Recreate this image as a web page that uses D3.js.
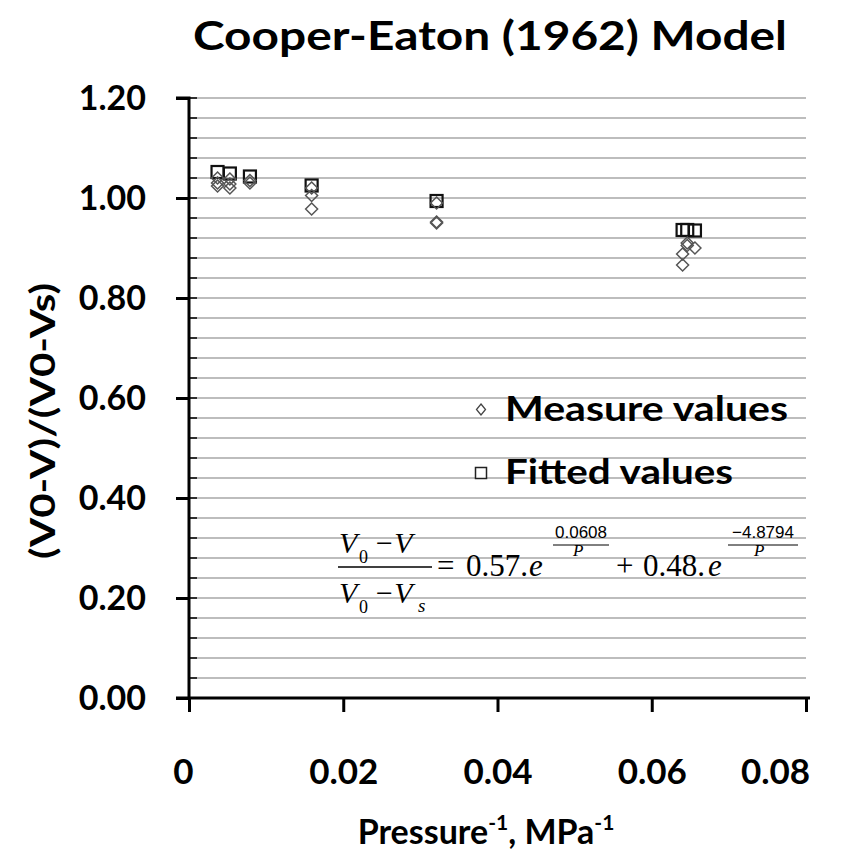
<!DOCTYPE html>
<html><head><meta charset="utf-8">
<script src="https://cdn.jsdelivr.net/npm/d3@7"></script>
<style>body{margin:0;background:#fff}svg{display:block}</style>
</head><body>
<script>
// ---- data ----
const measuredX = [0.0037,0.0037,0.0037,0.0053,0.0053,0.0053,0.0079,0.0079,0.0159,0.0159,0.0159,0.0321,0.0321,0.0321,0.0640,0.0640,0.0646,0.0646,0.0656];
const measuredY = [1.040,1.030,1.024,1.038,1.028,1.020,1.035,1.030,1.020,1.005,0.978,0.990,0.952,0.950,0.866,0.888,0.910,0.905,0.900];
const fittedX = [0.0037,0.0053,0.0079,0.0159,0.0321,0.0640,0.0646,0.0656];
const fittedY = [1.052,1.049,1.043,1.025,0.994,0.936,0.936,0.935];
const xTicks = [0,0.02,0.04,0.06,0.08];
const xTickLabels = ["0","0.02","0.04","0.06","0.08"];
const yTicks = [0,0.2,0.4,0.6,0.8,1.0,1.2];
const yTickLabels = ["0.00","0.20","0.40","0.60","0.80","1.00","1.20"];
const seriesNames = ["Measure values","Fitted values"];
const titleText = "Cooper-Eaton (1962) Model";

const W=849,H=853;
const m={l:189,r:806,t:98,b:698};
const svg=d3.select("body").append("svg").attr("width",W).attr("height",H);
const x=d3.scaleLinear().domain([0,0.08]).range([m.l,m.r]);
const y=d3.scaleLinear().domain([0,1.2]).range([m.b,m.t]);
const font="Lato, 'Open Sans', sans-serif";

// gridlines every 0.04
const grid=d3.range(1,31).map(i=>i*0.04);
svg.append("g").selectAll("line").data(grid).join("line")
  .attr("x1",m.l).attr("x2",m.r).attr("y1",d=>y(d)).attr("y2",d=>y(d))
  .attr("stroke","#bdbdbd").attr("stroke-width",1.8);

// y axis
const yAxis=d3.axisLeft(y).tickValues(yTicks).tickSize(13).tickFormat((d,i)=>yTickLabels[i]).tickPadding(30);
const gy=svg.append("g").attr("transform",`translate(${m.l},0)`).call(yAxis);
gy.select(".domain").attr("stroke","#000").attr("stroke-width",3).attr("d",`M-13,${m.t}H0V${m.b}`);
gy.selectAll(".tick line").attr("stroke","#000").attr("stroke-width",3);
gy.selectAll(".tick text").attr("font-family",font).attr("font-weight",700).attr("font-size",34).attr("fill","#000").attr("dy","0.35em");
// minor inward ticks on y
svg.append("g").selectAll("line").data(grid).join("line")
  .attr("x1",m.l).attr("x2",m.l+8).attr("y1",d=>y(d)).attr("y2",d=>y(d))
  .attr("stroke","#000").attr("stroke-width",1.5);

// x axis
const xAxis=d3.axisBottom(x).tickValues(xTicks).tickSize(14).tickFormat((d,i)=>xTickLabels[i]).tickPadding(47);
const gx=svg.append("g").attr("transform",`translate(0,${m.b})`).call(xAxis);
gx.select(".domain").attr("stroke","#000").attr("stroke-width",3).attr("d",`M${m.l-13},0H${m.r+4}`);
gx.selectAll(".tick line").attr("stroke","#000").attr("stroke-width",3);
gx.selectAll(".tick text").attr("font-family",font).attr("font-weight",700).attr("font-size",35).attr("fill","#000")
  .attr("dy","0.72em")
  .attr("dx",(d,i)=> i===0 ? -6 : (i===xTicks.length-1 ? -31 : 0));

// series: fitted squares
const sq=12;
svg.append("g").selectAll("rect").data(fittedX).join("rect")
  .attr("x",(d)=>x(d)-sq/2).attr("y",(d,i)=>y(fittedY[i])-sq/2)
  .attr("width",sq).attr("height",sq)
  .attr("fill","none").attr("stroke","#111").attr("stroke-width",2.2);
// measured diamonds
const dsz=6;
svg.append("g").selectAll("path").data(measuredX).join("path")
  .attr("d",(d,i)=>{const cx=x(d),cy=y(measuredY[i]);return `M${cx},${cy-dsz}L${cx+dsz},${cy}L${cx},${cy+dsz}L${cx-dsz},${cy}Z`;})
  .attr("fill","none").attr("stroke","#555").attr("stroke-width",1.5);

// legend
const lg=svg.append("g");
lg.append("path").attr("d",`M481,404L485.5,409.5L481,415L476.5,409.5Z`).attr("fill","#fff").attr("stroke","#444").attr("stroke-width",1.3);
lg.append("rect").attr("x",475.5).attr("y",467.5).attr("width",11).attr("height",11).attr("fill","#fff").attr("stroke","#222").attr("stroke-width",1.5);
lg.append("text").attr("x",505).attr("y",421).text(seriesNames[0]).attr("font-family",font).attr("font-weight",700).attr("font-size",34).attr("textLength",283).attr("lengthAdjust","spacingAndGlyphs");
lg.append("text").attr("x",505).attr("y",484).text(seriesNames[1]).attr("font-family",font).attr("font-weight",700).attr("font-size",34).attr("textLength",228).attr("lengthAdjust","spacingAndGlyphs");

// title
svg.append("text").attr("x",490).attr("y",50).attr("text-anchor","middle").text(titleText)
  .attr("font-family",font).attr("font-weight",700).attr("font-size",41).attr("textLength",594).attr("lengthAdjust","spacingAndGlyphs");

// y title
svg.append("text").attr("transform","translate(55,421) rotate(-90)").attr("text-anchor","middle")
  .text("(V0-V)/(V0-Vs)").attr("font-family",font).attr("font-weight",700).attr("font-size",34)
  .attr("textLength",276).attr("lengthAdjust","spacingAndGlyphs");

// x title
const xt=svg.append("text").attr("x",486).attr("y",844).attr("text-anchor","middle")
  .attr("font-family",font).attr("font-weight",700).attr("font-size",34);
xt.append("tspan").text("Pressure");
xt.append("tspan").text("-1").attr("font-size",21).attr("dy",-14);
xt.append("tspan").text(", MPa").attr("dy",14);
xt.append("tspan").text("-1").attr("font-size",21).attr("dy",-14);

// equation
const eq=svg.append("g").attr("font-family","'Liberation Serif', 'DejaVu Serif', serif").attr("fill","#000");
const tf=(t,xx,yy,sz,it)=>eq.append("text").attr("x",xx).attr("y",yy).attr("font-size",sz).attr("font-style",it?"italic":"normal").text(t);
tf("V",339,553,30,true);
tf("0",359,563,18,false);
tf("\u2212V",374,553,30,true);
eq.append("line").attr("x1",338).attr("x2",432).attr("y1",567).attr("y2",567).attr("stroke","#000").attr("stroke-width",1.3);
tf("V",339,603,30,true);
tf("0",359,613,18,false);
tf("\u2212V",374,603,30,true);
tf("s",418,612,19,true);
tf("=",437,576,31,false);
tf("0.57.",466,576,31,false);
tf("e",529,576,31,true);
const sans="'Liberation Sans', Arial, sans-serif";
eq.append("text").attr("x",581).attr("y",538).attr("text-anchor","middle").attr("font-family",sans).attr("font-size",17).text("0.0608");
eq.append("line").attr("x1",553).attr("x2",609).attr("y1",545).attr("y2",545).attr("stroke","#000").attr("stroke-width",1);
tf("P",573,556,17,true);
tf("+",616,576,31,false);
tf("0.48.",643,576,31,false);
tf("e",708,576,31,true);
eq.append("text").attr("x",763).attr("y",538).attr("text-anchor","middle").attr("font-family",sans).attr("font-size",17).text("\u22124.8794");
eq.append("line").attr("x1",728).attr("x2",798).attr("y1",545).attr("y2",545).attr("stroke","#000").attr("stroke-width",1);
tf("P",754,556,17,true);
</script>
</body></html>
